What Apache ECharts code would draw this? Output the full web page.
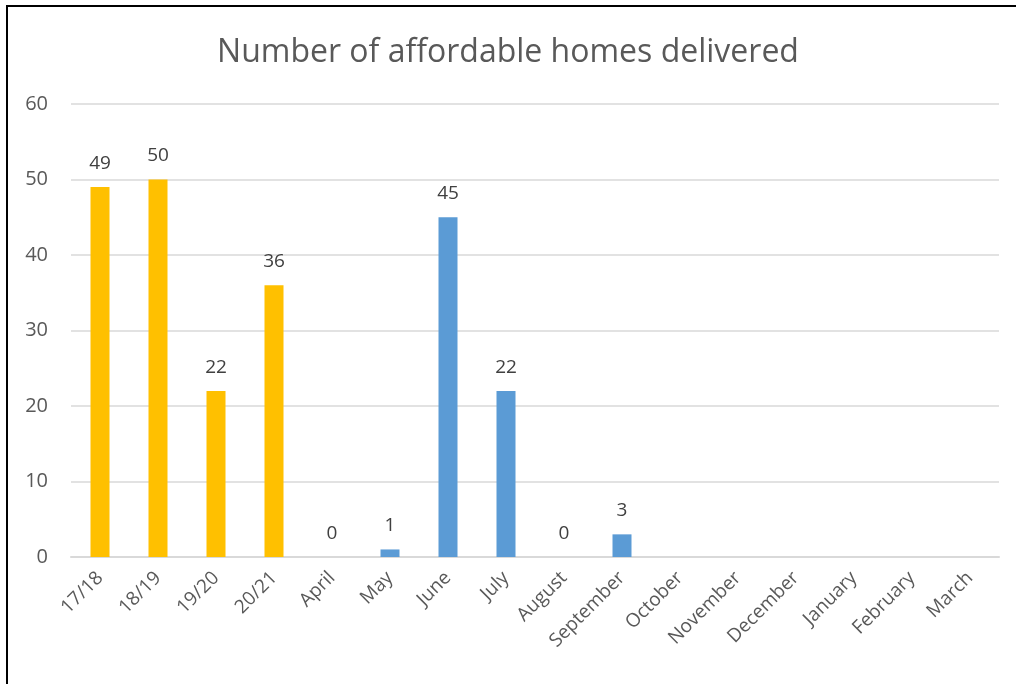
<!DOCTYPE html>
<html>
<head>
<meta charset="utf-8">
<style>
  html, body { margin: 0; padding: 0; background: #fff; }
  #chart { width: 1016px; height: 684px; }
</style>
<script src="https://cdn.jsdelivr.net/npm/echarts@6/dist/echarts.min.js"></script>
</head>
<body>
<div id="chart"></div>
<script>
// Affordable homes delivered: annual totals, then monthly figures for the current year
const categories = ['17/18', '18/19', '19/20', '20/21', 'April', 'May', 'June', 'July',
  'August', 'September', 'October', 'November', 'December', 'January', 'February', 'March'];
const yearlyValues = [49, 50, 22, 36, '-', '-', '-', '-', '-', '-', '-', '-', '-', '-', '-', '-'];
const monthlyValues = ['-', '-', '-', '-', 0, 1, 45, 22, 0, 3, '-', '-', '-', '-', '-', '-'];
const yTicks = { min: 0, max: 60, interval: 10 };

const font = 'Open Sans, Liberation Sans, sans-serif';
const labelStyle = {
  show: true, position: 'top', distance: 14,
  color: '#404040', fontSize: 19, fontFamily: font
};

const chart = echarts.init(document.getElementById('chart'), null, { renderer: 'canvas' });
chart.setOption({
  animation: false,
  backgroundColor: '#fff',
  graphic: [{
    // frame edges along the left and top of the chart area
    type: 'polyline',
    shape: { points: [[7, 684], [7, 6], [1016, 6]] },
    style: { fill: null, stroke: '#000', lineWidth: 2 }
  }],
  title: {
    text: 'Number of affordable homes delivered',
    left: 'center', top: 32,
    textStyle: { color: '#595959', fontSize: 32, fontWeight: 'normal', fontFamily: font }
  },
  grid: { left: 71, right: 17, top: 104, bottom: 127, containLabel: false },
  xAxis: {
    type: 'category', data: categories,
    axisLine: { show: true, lineStyle: { color: '#d9d9d9', width: 2 } },
    axisTick: { show: false },
    axisLabel: {
      rotate: 45, interval: 0, margin: 18,
      color: '#595959', fontSize: 19, fontFamily: font
    }
  },
  yAxis: {
    type: 'value', min: yTicks.min, max: yTicks.max, interval: yTicks.interval,
    axisLine: { show: false }, axisTick: { show: false },
    splitLine: { lineStyle: { color: '#d9d9d9', width: 1.5 } },
    axisLabel: { color: '#595959', fontSize: 20, fontFamily: font, margin: 23 }
  },
  series: [
    {
      type: 'bar', data: yearlyValues, barWidth: 19, barGap: '-100%',
      itemStyle: { color: '#FFC000' }, label: labelStyle
    },
    {
      type: 'bar', data: monthlyValues, barWidth: 19, barGap: '-100%',
      itemStyle: { color: '#5B9BD5' }, label: labelStyle
    }
  ]
});
</script>
</body>
</html>
